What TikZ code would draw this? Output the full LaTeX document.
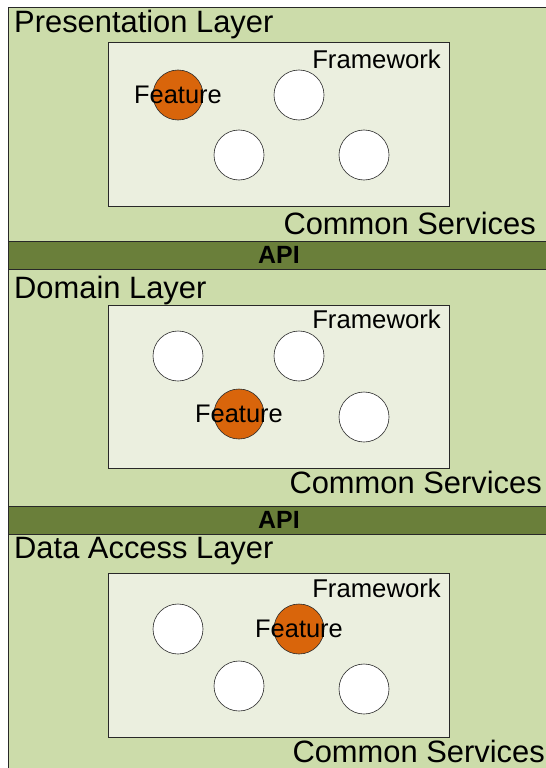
\documentclass[tikz,border=0pt]{standalone}
\usepackage{fontspec}
\setmainfont{Liberation Sans}
\usepackage{tikz}
\definecolor{Layer}{RGB}{204, 220, 170}
\definecolor{Frame}{RGB}{235, 239, 223}
\definecolor{Api}{RGB}{106, 127, 58}
\definecolor{Orange}{RGB}{217, 101, 11}
\definecolor{Edge}{RGB}{40, 40, 40}
\usetikzlibrary{positioning}
\tikzset{
    strato/.style={fill=Layer, draw=Edge, line width=0.8bp},
    cornice/.style={fill=Frame, draw=Edge, line width=0.8bp},
    api bar/.style={fill=Api, draw=Edge, line width=0.8bp},
    titolo strato/.style={anchor=base west, inner sep=0pt, font=\fontsize{31}{36}\selectfont},
    servizi/.style={anchor=base east, inner sep=0pt, font=\fontsize{31}{36}\selectfont}
}

\begin{document}
\begin{tikzpicture}[
    x=1bp, y=-1bp,
    modulo/.style = {circle, inner sep=0pt, minimum size=50bp, fill=white, draw=Edge, line width=0.6bp},
    feature/.style = {modulo, fill=Orange},
    etichetta feature/.style = {inner sep=0pt, font=\fontsize{25.5}{30}\selectfont},
    etichetta framework/.style = {anchor=base east, inner sep=0pt, font=\fontsize{25.8}{30}\selectfont},
    etichetta api/.style = {inner sep=0pt, font=\bfseries\fontsize{25}{28}\selectfont}
    ]
    \useasboundingbox (0,0) rectangle (546,768);

    %%% Layers
    \path[strato] (8,7) rectangle (580,241);
    \path[api bar] (8,241) rectangle (580,269);
    \path[strato] (8,269) rectangle (580,506);
    \path[api bar] (8,506) rectangle (580,534);
    \path[strato] (8,534) rectangle (580,800);

    % frameworks
    \path[cornice] (108,42) rectangle (449,206);
    \path[cornice] (108,305) rectangle (449,468);
    \path[cornice] (108,573) rectangle (449,737);

    %%% Presentation
    \node [titolo strato] (pres) at (14,33) {Presentation Layer};
    \node [etichetta framework] (fw1) at (441,69) {Framework};
    \node [feature] (feat1) at (178,95) {};
    \node [modulo]  (m11)   at (299,95) {};
    \node [modulo]  (m12)   at (239,155) {};
    \node [modulo]  (m13)   at (364,155) {};
    \node [etichetta feature] (flab1) at (feat1) {Feature};
    \node [servizi] (cs1) at (536,234) {Common Services};
    \node [etichetta api] (api1) at (279,255) {API};

    %%% Domain
    \node [titolo strato] (dom) at (14,298) {Domain Layer};
    \node [etichetta framework] (fw2) at (441,328) {Framework};
    \node [modulo]  (m21)   at (178,356) {};
    \node [modulo]  (m22)   at (299,356) {};
    \node [feature] (feat2) at (239,414) {};
    \node [modulo]  (m23)   at (364,417) {};
    \node [etichetta feature] (flab2) at (feat2) {Feature};
    \node [servizi] (cs2) at (542,493) {Common Services};
    \node [etichetta api] (api2) at (279,520) {API};

    %%% Data Access
    \node [titolo strato] (data) at (14,558) {Data Access Layer};
    \node [etichetta framework] (fw3) at (441,597) {Framework};
    \node [modulo]  (m31)   at (178,629) {};
    \node [feature] (feat3) at (299,629) {};
    \node [modulo]  (m32)   at (239,686) {};
    \node [modulo]  (m33)   at (364,689) {};
    \node [etichetta feature] (flab3) at (feat3) {Feature};
    \node [servizi] (cs3) at (545,762) {Common Services};
\end{tikzpicture}
\end{document}
